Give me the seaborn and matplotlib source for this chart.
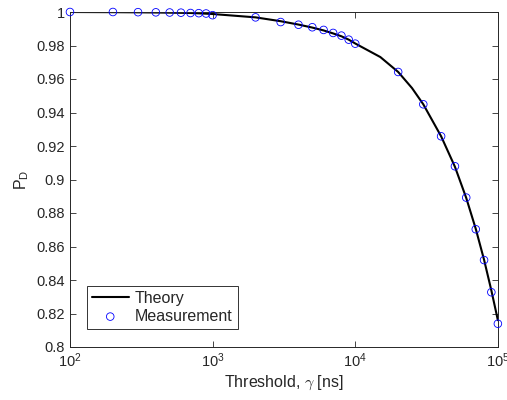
import matplotlib
matplotlib.use("Agg")
import matplotlib.pyplot as plt
import seaborn as sns

# Theory curve (threshold in ns, detection probability)
theory_x = [100, 200, 300, 400, 500, 600, 700, 800, 900, 1000,
            2000, 3000, 4000, 5000, 6000, 7000, 8000, 9000, 10000,
            15000, 20000, 25000, 30000, 40000, 50000, 60000, 70000,
            80000, 90000, 100000]
theory_pd = [1.0, 0.9999, 0.9998, 0.9997, 0.9996, 0.9995, 0.9994, 0.9992, 0.9990, 0.9988,
             0.9968, 0.9945, 0.9925, 0.9907, 0.9890, 0.9872, 0.9855, 0.9835, 0.9812,
             0.9731, 0.9642, 0.9546, 0.9449, 0.9258, 0.9076, 0.8890, 0.8705,
             0.8521, 0.8338, 0.8160]

# Measured points
meas_x = [100, 200, 300, 400, 500, 600, 700, 800, 900, 1000,
          2000, 3000, 4000, 5000, 6000, 7000, 8000, 9000, 10000,
          20000, 30000, 40000, 50000, 60000, 70000, 80000, 90000, 100000]
meas_pd = [1.0, 1.0, 0.9999, 0.9998, 0.9997, 0.9996, 0.9994, 0.9993, 0.9991, 0.9981,
           0.9968, 0.9940, 0.9924, 0.9909, 0.9893, 0.9875, 0.9859, 0.9835, 0.9811,
           0.9642, 0.9449, 0.9258, 0.9079, 0.8892, 0.8703, 0.8519, 0.8327, 0.8139]

y_ticks = [0.8, 0.82, 0.84, 0.86, 0.88, 0.9, 0.92, 0.94, 0.96, 0.98, 1.0]
y_labels = ["0.8", "0.82", "0.84", "0.86", "0.88", "0.9", "0.92", "0.94", "0.96", "0.98", "1"]

sns.set_style("ticks")
plt.rcParams["font.family"] = ["Liberation Sans", "DejaVu Sans"]
plt.rcParams["mathtext.fontset"] = "cm"

fig = plt.figure(figsize=(5.07, 4.0), dpi=100)
ax = fig.add_axes([0.138, 0.1325, 0.844, 0.8375])

sns.lineplot(x=theory_x, y=theory_pd, color="black", linewidth=1.5,
             label="Theory", ax=ax)
sns.scatterplot(x=meas_x, y=meas_pd, marker="o", s=30, facecolor="none",
                edgecolor="blue", linewidth=0.6, label="Measurement",
                clip_on=False, zorder=3, ax=ax)

ax.set_xscale("log")
ax.set_xlim(100, 100000)
ax.set_ylim(0.8, 1.0)
ax.set_yticks(y_ticks)
ax.set_yticklabels(y_labels)
ax.minorticks_off()
ax.tick_params(direction="in", top=True, right=True, labelsize=10.5,
               length=4, width=0.6, colors="#262626")
for sp in ax.spines.values():
    sp.set_visible(True)
    sp.set_linewidth(0.7)
    sp.set_color("#262626")

ax.set_xlabel(r"Threshold, $\gamma$ [ns]", fontsize=11.5, color="#262626", labelpad=2)
ax.set_ylabel(r"$\mathregular{P_D}$", fontsize=11.5, color="#262626", labelpad=4)

leg = ax.legend(loc="lower left", bbox_to_anchor=(0.04, 0.055), fontsize=11.5,
                frameon=True, fancybox=False, edgecolor="black",
                handlelength=2.3, borderpad=0.3, labelspacing=0.2,
                handletextpad=0.4, borderaxespad=0)
leg.get_frame().set_linewidth(0.7)

fig.savefig("out.png", dpi=100)
